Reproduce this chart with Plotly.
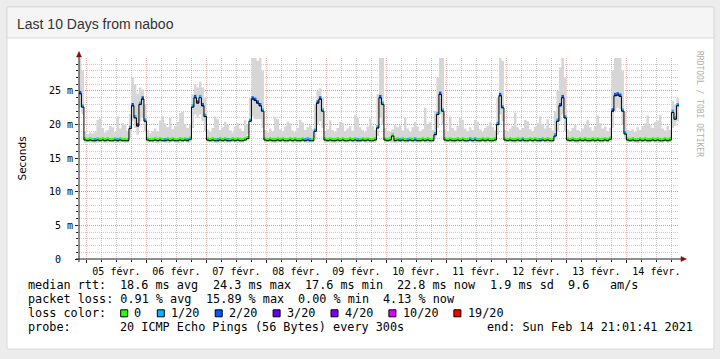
import re
import plotly.graph_objects as go
import pandas as pd

# ---------------- data (hourly buckets, starting 2021-02-04 21:00) ----------------
median_ms = [
    24.6, 22.6, 17.7, 17.6, 17.7, 17.6, 17.6, 17.7, 17.6, 17.7, 17.6, 17.7, 17.6, 17.6, 17.7, 17.6, 17.7, 17.6, 17.6, 17.6, 19.4, 22.8, 21.0, 19.8,
    23.0, 23.8, 20.5, 17.7, 17.6, 17.6, 17.7, 17.6, 17.7, 17.6, 17.6, 17.7, 17.6, 17.7, 17.6, 17.6, 17.7, 17.6, 17.7, 17.6, 17.8, 22.6, 24.0, 23.2,
    24.0, 22.8, 21.2, 17.7, 17.6, 17.7, 17.6, 17.6, 17.7, 17.6, 17.7, 17.6, 17.6, 17.7, 17.6, 17.7, 17.6, 17.6, 17.7, 17.9, 20.5, 23.8, 23.6, 23.2,
    22.8, 22.0, 17.7, 17.6, 17.7, 17.6, 17.6, 17.7, 17.6, 17.7, 17.6, 17.6, 17.7, 17.6, 17.7, 17.6, 17.6, 17.7, 17.6, 17.7, 17.6, 17.6, 19.0, 23.2,
    23.8, 22.0, 17.7, 17.6, 17.7, 17.6, 17.6, 17.7, 17.6, 17.7, 17.6, 17.6, 17.7, 17.6, 17.7, 17.6, 17.6, 17.7, 17.6, 17.7, 17.6, 17.6, 17.7, 19.5,
    24.0, 23.0, 17.7, 17.6, 17.7, 18.3, 17.6, 17.7, 17.6, 17.7, 17.6, 17.6, 17.7, 17.6, 17.7, 17.6, 17.6, 17.7, 17.6, 17.7, 17.6, 17.6, 18.5, 21.5,
    24.5, 22.0, 17.7, 17.6, 17.7, 17.6, 17.6, 17.7, 17.6, 17.7, 17.6, 17.6, 17.7, 17.6, 17.7, 17.6, 17.6, 17.7, 17.6, 17.7, 17.6, 17.6, 17.7, 20.0,
    24.3, 22.5, 17.7, 17.6, 17.7, 17.6, 17.6, 17.7, 17.6, 17.7, 17.6, 17.6, 17.7, 17.6, 17.7, 17.6, 17.6, 17.7, 17.6, 17.7, 17.6, 17.6, 18.3, 20.5,
    22.8, 24.0, 21.0, 17.7, 17.6, 17.7, 17.6, 17.6, 17.7, 17.6, 17.7, 17.6, 17.6, 17.7, 17.6, 17.7, 17.6, 17.6, 17.7, 17.6, 17.8, 22.0, 24.3, 24.4,
    24.2, 22.0, 18.6, 17.7, 17.6, 17.7, 17.6, 17.6, 17.7, 17.6, 17.7, 17.6, 17.6, 17.7, 17.6, 17.7, 17.6, 17.6, 17.7, 17.6, 17.7, 21.8, 20.8, 22.8,
    23.0,
]

loss_count = [
    2, 1, 0, 0, 0, 0, 1, 0, 0, 0, 0, 0, 0, 0, 0, 1, 0, 0, 0, 0, 1, 2, 1, 3,
    1, 2, 1, 0, 0, 0, 0, 0, 0, 0, 1, 0, 0, 0, 0, 0, 0, 0, 0, 1, 0, 1, 2, 2,
    1, 2, 1, 0, 0, 0, 0, 1, 0, 0, 0, 1, 0, 0, 0, 0, 0, 0, 0, 0, 1, 2, 2, 2,
    2, 1, 0, 0, 0, 0, 0, 0, 0, 0, 0, 0, 0, 0, 0, 0, 0, 0, 1, 1, 1, 0, 1, 2,
    2, 1, 0, 0, 0, 0, 0, 0, 0, 0, 0, 0, 0, 0, 0, 1, 0, 0, 0, 0, 0, 0, 0, 1,
    2, 1, 0, 0, 0, 0, 0, 0, 1, 0, 0, 1, 0, 0, 1, 0, 0, 0, 0, 0, 0, 0, 1, 1,
    2, 1, 0, 0, 0, 0, 0, 0, 0, 0, 0, 0, 1, 0, 1, 0, 0, 0, 0, 0, 0, 0, 0, 1,
    2, 1, 0, 0, 0, 0, 0, 0, 0, 1, 0, 0, 0, 0, 0, 0, 1, 0, 0, 0, 0, 0, 1, 1,
    2, 2, 1, 0, 0, 0, 0, 0, 0, 0, 0, 0, 0, 0, 0, 0, 0, 0, 0, 0, 0, 2, 2, 2,
    2, 1, 1, 0, 0, 0, 0, 0, 0, 0, 0, 0, 0, 0, 0, 0, 0, 0, 0, 0, 0, 1, 1, 1,
    2,
]

smoke_lo = [
    22.5, 21.5, 17.3, 17.4, 17.3, 17.3, 17.2, 17.3, 17.4, 17.3, 17.3, 17.3, 17.4, 17.3, 17.2, 17.3, 17.3, 17.4, 17.3, 17.3, 18.0, 20.5, 19.5, 18.5,
    20.5, 21.0, 19.0, 17.3, 17.4, 17.3, 17.3, 17.2, 17.3, 17.4, 17.3, 17.3, 17.3, 17.4, 17.3, 17.2, 17.3, 17.3, 17.4, 17.3, 17.4, 19.5, 21.5, 21.0,
    21.5, 20.5, 19.0, 17.3, 17.4, 17.3, 17.3, 17.2, 17.3, 17.4, 17.3, 17.3, 17.3, 17.4, 17.3, 17.2, 17.3, 17.3, 17.5, 18.5, 21.0, 21.2, 20.8, 20.8,
    20.8, 19.5, 17.3, 17.4, 17.3, 17.3, 17.2, 17.3, 17.4, 17.3, 17.3, 17.3, 17.4, 17.3, 17.2, 17.3, 17.3, 17.4, 17.3, 17.3, 17.3, 17.4, 18.0, 20.0,
    20.5, 19.5, 17.3, 17.4, 17.3, 17.3, 17.2, 17.3, 17.4, 17.3, 17.3, 17.3, 17.4, 17.3, 17.2, 17.3, 17.3, 17.4, 17.3, 17.3, 17.3, 17.4, 17.3, 18.3,
    21.0, 20.0, 17.3, 17.4, 17.3, 17.3, 17.2, 17.3, 17.4, 17.3, 17.3, 17.3, 17.4, 17.3, 17.2, 17.3, 17.3, 17.4, 17.3, 17.3, 17.3, 17.4, 17.8, 19.5,
    21.5, 20.0, 17.3, 17.4, 17.3, 17.3, 17.2, 17.3, 17.4, 17.3, 17.3, 17.3, 17.4, 17.3, 17.2, 17.3, 17.3, 17.4, 17.3, 17.3, 17.3, 17.4, 17.3, 18.5,
    21.5, 20.5, 17.3, 17.4, 17.3, 17.3, 17.2, 17.3, 17.4, 17.3, 17.3, 17.3, 17.4, 17.3, 17.2, 17.3, 17.3, 17.4, 17.3, 17.3, 17.3, 17.4, 17.8, 19.0,
    20.5, 21.5, 19.0, 17.3, 17.4, 17.3, 17.3, 17.2, 17.3, 17.4, 17.3, 17.3, 17.3, 17.4, 17.3, 17.2, 17.3, 17.3, 17.4, 17.3, 17.4, 19.5, 22.0, 22.5,
    22.3, 20.0, 17.8, 17.3, 17.4, 17.3, 17.3, 17.2, 17.3, 17.4, 17.3, 17.3, 17.3, 17.4, 17.3, 17.2, 17.3, 17.3, 17.4, 17.3, 17.4, 19.5, 19.8, 20.5,
    21.5,
]

smoke_hi = [
    30.5, 28.0, 19.0, 18.6, 18.8, 18.7, 18.9, 20.7, 20.9, 19.5, 18.8, 19.2, 19.8, 19.6, 18.9, 21.2, 19.4, 20.2, 20.0, 19.0, 21.5, 27.0, 26.0, 24.5,
    25.5, 25.2, 23.0, 19.2, 18.7, 19.0, 19.4, 18.9, 20.6, 21.3, 20.2, 19.6, 21.0, 19.3, 19.8, 20.4, 21.7, 21.9, 20.1, 19.5, 20.0, 24.5, 26.0, 25.5,
    26.4, 25.5, 24.0, 19.3, 18.9, 19.5, 21.2, 20.8, 19.2, 19.6, 20.4, 20.0, 19.1, 18.8, 19.7, 20.2, 19.4, 19.0, 20.7, 20.0, 24.0, 30.5, 30.5, 29.5,
    30.5, 28.0, 19.2, 18.8, 19.4, 19.0, 21.2, 20.8, 19.3, 19.0, 19.7, 20.4, 20.2, 19.1, 18.9, 19.5, 20.7, 20.3, 19.2, 19.6, 19.9, 19.3, 23.0, 25.0,
    25.4, 24.0, 19.0, 19.3, 20.6, 19.2, 18.9, 19.5, 20.4, 20.2, 19.0, 19.4, 19.8, 19.1, 21.4, 21.0, 19.6, 19.2, 18.9, 19.7, 20.9, 19.8, 19.2, 24.5,
    30.5, 30.5, 19.5, 19.0, 18.9, 19.3, 19.9, 19.6, 19.9, 19.1, 21.0, 19.4, 18.9, 19.6, 20.4, 19.7, 19.0, 19.3, 22.5, 20.1, 20.4, 19.2, 22.0, 27.0,
    30.5, 30.0, 19.3, 19.0, 21.2, 19.5, 19.1, 19.8, 21.0, 20.7, 19.4, 19.0, 19.6, 19.2, 20.7, 20.4, 19.3, 18.9, 19.5, 19.8, 20.4, 19.6, 19.1, 24.0,
    30.5, 29.5, 19.2, 19.0, 19.4, 19.8, 21.8, 19.6, 19.2, 19.5, 20.7, 20.5, 19.3, 19.0, 19.7, 20.2, 21.2, 20.0, 19.4, 20.8, 19.5, 19.1, 22.0, 25.0,
    28.5, 30.0, 27.0, 19.3, 19.0, 19.5, 19.9, 19.2, 18.9, 19.4, 20.0, 20.7, 19.6, 19.1, 19.8, 21.4, 20.2, 19.4, 19.7, 19.0, 19.5, 28.0, 30.2, 30.2,
    30.2, 28.0, 22.0, 19.2, 19.0, 19.3, 18.9, 19.6, 19.2, 19.8, 20.2, 21.4, 19.9, 19.5, 20.4, 20.6, 21.4, 19.4, 19.1, 19.8, 19.2, 23.5, 23.0, 24.0,
    24.2,
]

y_tick_vals = [0, 5, 10, 15, 20, 25]
y_tick_text = ["0\u00a0\u00a0", "5 m", "10 m", "15 m", "20 m", "25 m"]

loss_labels = ["0", "1/20", "2/20", "3/20", "4/20", "10/20", "19/20"]
loss_colors = ["#26ff00", "#00b8ff", "#0059ff", "#5e00ff", "#7e00ff", "#dd00ff", "#ff0000"]
loss_color_of_count = {0: "#26ff00", 1: "#00b8ff", 2: "#0059ff", 3: "#5e00ff"}

legend_rtt = "median rtt:  18.6 ms avg  24.3 ms max  17.6 ms min  22.8 ms now  1.9 ms sd  9.6   am/s"
legend_loss = "packet loss: 0.91 % avg  15.89 % max  0.00 % min  4.13 % now"
legend_probe = "probe:       20 ICMP Echo Pings (56 Bytes) every 300s"
legend_end = "end: Sun Feb 14 21:01:41 2021"

times = pd.date_range("2021-02-04 21:00", periods=len(median_ms), freq="h")
step = pd.Timedelta(hours=1)

# ---------------- geometry helpers (pixel -> paper) ----------------
W, H = 720, 359
L, R, T, B = 79, 679, 58, 259


def px(x):
    return (x - L) / (R - L)


def py(y):
    return (B - y) / (B - T)


MONO = "DejaVu Sans Mono"

fig = go.Figure()

# smoke
fig.add_trace(go.Scatter(x=times, y=smoke_lo, mode="lines", line=dict(width=0, shape="hv"),
                         showlegend=False, hoverinfo="skip"))
fig.add_trace(go.Scatter(x=times, y=smoke_hi, mode="lines", line=dict(width=0, shape="hv"),
                         fill="tonexty", fillcolor="#d6d6d6", showlegend=False, hoverinfo="skip"))

# loss-coloured median band: one trace per loss class, one segment per bucket
for cnt, col in loss_color_of_count.items():
    xs, ys = [], []
    for t, m, c in zip(times, median_ms, loss_count):
        if c == cnt:
            xs += [t, t + step, None]
            ys += [m + 0.15, m + 0.15, None]
    if xs:
        fig.add_trace(go.Scatter(x=xs, y=ys, mode="lines", line=dict(color=col, width=3.5),
                                 showlegend=False, hoverinfo="skip", connectgaps=False))

# median line
fig.add_trace(go.Scatter(x=times, y=median_ms, mode="lines", line=dict(color="#000000", width=1, shape="hv"),
                         showlegend=False, name="median rtt"))

shapes = []
# page panel
shapes.append(dict(type="rect", xref="paper", yref="paper", x0=px(7), x1=px(714), y0=py(349), y1=py(7),
                   fillcolor="#ffffff", line=dict(color="#d9d9d9", width=1), layer="below"))
shapes.append(dict(type="rect", xref="paper", yref="paper", x0=px(7), x1=px(714), y0=py(38), y1=py(7),
                   fillcolor="#f5f5f5", line=dict(color="#d9d9d9", width=1), layer="below"))
# axes lines
AX = "#202020"
ARROW = "#801010"
shapes.append(dict(type="line", xref="paper", yref="paper", x0=px(79), x1=px(79), y0=py(262), y1=py(55),
                   line=dict(color=AX, width=1)))
shapes.append(dict(type="line", xref="paper", yref="paper", x0=px(76), x1=px(682), y0=py(259), y1=py(259),
                   line=dict(color=AX, width=1)))
shapes.append(dict(type="path", xref="paper", yref="paper",
                   path=f"M {px(76.5)},{py(57)} L {px(81.5)},{py(57)} L {px(79)},{py(51.5)} Z",
                   fillcolor=ARROW, line=dict(color=ARROW, width=0.5)))
shapes.append(dict(type="path", xref="paper", yref="paper",
                   path=f"M {px(681)},{py(256.5)} L {px(681)},{py(261.5)} L {px(686.5)},{py(259)} Z",
                   fillcolor=ARROW, line=dict(color=ARROW, width=0.5)))

annotations = []
annotations.append(dict(text="Last 10 Days from naboo", x=px(14.5), y=py(23.5), xref="paper", yref="paper",
                        xanchor="left", yanchor="middle", showarrow=False,
                        font=dict(family="Liberation Sans", size=14, color="#333333")))
annotations.append(dict(text="Seconds", x=px(21.5), y=py(158), xref="paper", yref="paper",
                        xanchor="center", yanchor="middle", showarrow=False, textangle=-90,
                        font=dict(family="DejaVu Sans", size=10.5, color="#000000")))
annotations.append(dict(text="RRDTOOL / TOBI OETIKER", x=px(700), y=py(104), xref="paper", yref="paper",
                        xanchor="center", yanchor="middle", showarrow=False, textangle=90,
                        font=dict(family=MONO, size=8, color="#b0b0b0")))

LX = 26.0   # text box left for character column 0
CH = 7.1    # monospace advance per character
LEG_FONT = dict(family=MONO, size=11.8, color="#000000")


def add_text(txt, col, yy, anchor="left"):
    annotations.append(dict(text=txt, x=px(LX + col * CH), y=py(yy), xref="paper", yref="paper",
                            xanchor=anchor, yanchor="middle", showarrow=False, font=LEG_FONT))


def place_line(text, yy):
    # keep column alignment by placing each run of words at its character column
    for m in re.finditer(r"\S+(?: \S+)*", text):
        add_text(m.group(0), m.start(), yy)


rows_y = [285, 299.3, 313.3, 327.3]
place_line(legend_rtt, rows_y[0])
place_line(legend_loss, rows_y[1])
place_line("loss color:", rows_y[2])
place_line(legend_probe, rows_y[3])
annotations.append(dict(text=legend_end, x=px(694.5), y=py(rows_y[3]), xref="paper", yref="paper",
                        xanchor="right", yanchor="middle", showarrow=False, font=LEG_FONT))

bx = 120.7
for lab, col in zip(loss_labels, loss_colors):
    shapes.append(dict(type="rect", xref="paper", yref="paper", x0=px(bx), x1=px(bx + 7),
                       y0=py(rows_y[2] + 3.5), y1=py(rows_y[2] - 3.5),
                       fillcolor=col, line=dict(color="#000000", width=1)))
    annotations.append(dict(text=lab, x=px(bx + 2 * CH - 2.5), y=py(rows_y[2]), xref="paper", yref="paper",
                            xanchor="left", yanchor="middle", showarrow=False, font=LEG_FONT))
    bx += len(lab) * CH + 29.5

MGRID = "rgba(200,50,50,0.35)"
GRID = "rgba(140,140,140,0.45)"

fig.update_layout(
    width=W, height=H,
    margin=dict(l=L, r=W - R, t=T, b=H - B, pad=0),
    paper_bgcolor="#ececec",
    plot_bgcolor="rgba(0,0,0,0)",
    showlegend=False,
    shapes=shapes,
    annotations=annotations,
    xaxis=dict(
        type="date",
        range=["2021-02-04 21:01:41", "2021-02-14 21:01:41"],
        tick0="2021-02-05", dtick=86400000,
        tickformat="%d févr.", ticklabelmode="period",
        showgrid=True, gridcolor=MGRID, griddash="1px,1px", gridwidth=1,
        ticks="outside", ticklen=3, tickcolor=AX,
        minor=dict(dtick=21600000, showgrid=True, gridcolor=GRID, griddash="1px,1px",
                   ticks="outside", ticklen=2, tickcolor=AX),
        showline=False, zeroline=False,
        tickfont=dict(family=MONO, size=10, color="#000000"),
        fixedrange=True,
    ),
    yaxis=dict(
        range=[0, 29.9],
        tickmode="array", tickvals=y_tick_vals, ticktext=y_tick_text,
        showgrid=True, gridcolor=MGRID, griddash="1px,1px", gridwidth=1,
        ticks="outside", ticklen=3, tickcolor=AX,
        minor=dict(dtick=1, showgrid=True, gridcolor=GRID, griddash="1px,1px",
                   ticks="outside", ticklen=2, tickcolor=AX),
        showline=False, zeroline=False,
        tickfont=dict(family=MONO, size=10, color="#000000"),
        fixedrange=True,
    ),
)

fig.write_html("out.html", config={"displayModeBar": False},
               post_script="document.body.style.margin='0px';")
